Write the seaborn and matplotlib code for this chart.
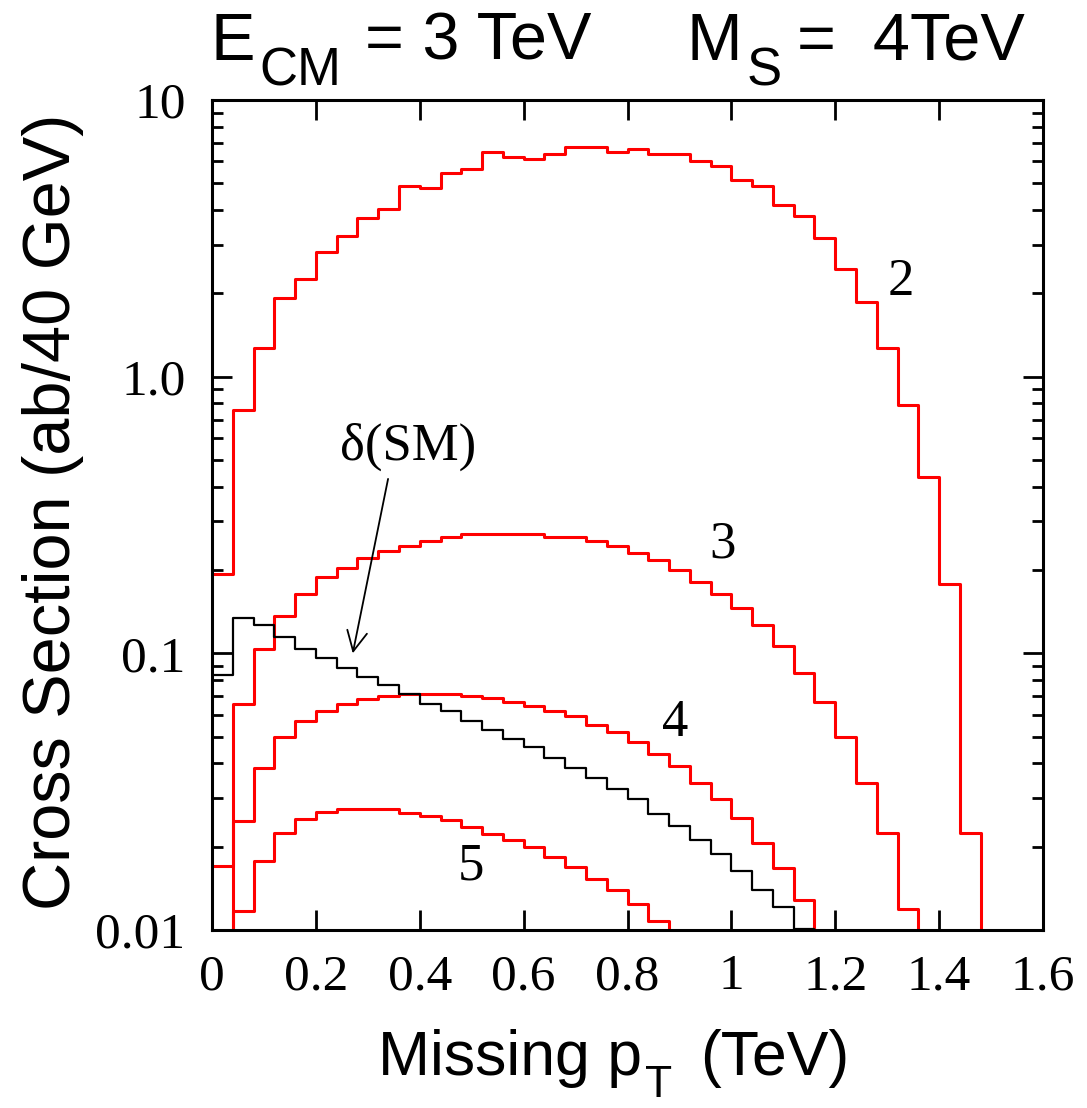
import numpy as np
import pandas as pd
import matplotlib
matplotlib.use("Agg")
import matplotlib.pyplot as plt
import seaborn as sns
from matplotlib.ticker import NullFormatter

# ----------------------------------------------------
# data: cross section per 40 GeV bin (ab)
# ----------------------------------------------------
bin_edges = [round(0.04 * i, 2) for i in range(41)]   # TeV
BELOW = 1e-3   # bins that fall under the 0.01 floor of the plot

# n = 2 extra dimensions, bins 0..36
xsec_n2 = [0.194, 0.758, 1.27, 1.93, 2.26, 2.82, 3.23, 3.73, 4.04, 4.90,
           4.82, 5.43, 5.64, 6.51, 6.24, 6.12, 6.38, 6.75, 6.75, 6.51,
           6.64, 6.38, 6.38, 6.02, 5.76, 5.13, 4.90, 4.18, 3.80, 3.18,
           2.45, 1.86, 1.27, 0.792, 0.435, 0.178, 0.0225]
# n = 3, bins 0..33
xsec_n3 = [0.0170, 0.0655, 0.1035, 0.136, 0.164, 0.189, 0.204, 0.222, 0.234, 0.244,
           0.254, 0.264, 0.269, 0.269, 0.269, 0.269, 0.264, 0.264, 0.254, 0.244,
           0.230, 0.217, 0.200, 0.181, 0.164, 0.146, 0.127, 0.106, 0.0851, 0.0669,
           0.0498, 0.0341, 0.0225, 0.0119]
# n = 4, bins 1..28
xsec_n4 = [0.0247, 0.0386, 0.0498, 0.0571, 0.0619, 0.0657, 0.0683, 0.0702, 0.0714,
           0.0714, 0.0714, 0.0702, 0.0690, 0.0669, 0.0647, 0.0619, 0.0594, 0.0551,
           0.0519, 0.0477, 0.0433, 0.0392, 0.0341, 0.0297, 0.0254, 0.0207, 0.0167,
           0.0128]
# n = 5, bins 1..21
xsec_n5 = [0.0117, 0.0177, 0.0225, 0.0251, 0.0267, 0.0274, 0.0274, 0.0274, 0.0264,
           0.0259, 0.0249, 0.0235, 0.0222, 0.0212, 0.0199, 0.0184, 0.0169, 0.0153,
           0.0139, 0.0124, 0.0108]
# SM background fluctuation delta(SM), bins 0..28
xsec_sm = [0.0833, 0.1346, 0.127, 0.1148, 0.104, 0.0960, 0.0888, 0.0820, 0.0769,
           0.0714, 0.0657, 0.0619, 0.0571, 0.0529, 0.0489, 0.0460, 0.0418, 0.0384,
           0.0354, 0.0323, 0.0297, 0.0263, 0.0238, 0.0211, 0.0188, 0.0163, 0.0139,
           0.0121, 0.0101]

curve_names = ["2", "3", "4", "5", "SM"]
curve_first_bin = [0, 0, 1, 1, 0]
curve_values = [xsec_n2, xsec_n3, xsec_n4, xsec_n5, xsec_sm]

# long-form table, one row per bin per curve
edges = np.array(bin_edges)
n_bins = len(edges) - 1
centers = (edges[:-1] + edges[1:]) / 2
rows = []
for name, first, vals in zip(curve_names, curve_first_bin, curve_values):
    w = np.full(n_bins, BELOW)
    w[first:first + len(vals)] = vals
    rows.append(pd.DataFrame({"pt": centers, "xsec": w, "curve": name}))
df = pd.concat(rows, ignore_index=True)

# ----------------------------------------------------
# style
# ----------------------------------------------------
sns.set_style("ticks")
plt.rcParams["font.family"] = ["Liberation Sans", "DejaVu Sans"]
for key in ["text.color", "axes.labelcolor", "xtick.color", "ytick.color", "axes.edgecolor"]:
    plt.rcParams[key] = "black"
serif = ["Liberation Serif", "DejaVu Serif"]

W, H = 1087, 1108
fig = plt.figure(figsize=(W / 100, H / 100), dpi=100)
ax = fig.add_axes([212 / W, 1 - 930 / H, 831 / W, 830 / H])

red = df[df["curve"] != "SM"]
sns.histplot(data=red, x="pt", weights="xsec", hue="curve", bins=bin_edges,
             element="step", fill=False, palette={c: "#ff0000" for c in curve_names[:4]},
             linewidth=2.2, legend=False, ax=ax)
sns.histplot(data=df[df["curve"] == "SM"], x="pt", weights="xsec", bins=bin_edges,
             element="step", fill=False, color="black", linewidth=1.6,
             legend=False, ax=ax)

ax.set_yscale("log")
ax.set_xlim(0, 1.6)
ax.set_ylim(0.01, 10)

# ticks
ax.set_xticks([0, 0.2, 0.4, 0.6, 0.8, 1.0, 1.2, 1.4, 1.6],
              ["0", "0.2", "0.4", "0.6", "0.8", "1", "1.2", "1.4", "1.6"],
              fontsize=37, fontfamily=serif)
ax.set_yticks([0.01, 0.1, 1, 10], ["0.01", "0.1", "1.0", "10"],
              fontsize=37, fontfamily=serif)
ax.yaxis.set_minor_formatter(NullFormatter())
ax.tick_params(which="both", direction="in", top=True, right=True, width=2)
ax.tick_params(which="major", length=14.5)
ax.tick_params(which="minor", length=8)
ax.tick_params(axis="x", pad=17)
ax.tick_params(axis="y", pad=19)
for s in ax.spines.values():
    s.set_linewidth(2.2)
    s.set_color("black")

# y label
ax.set_ylabel("Cross Section (ab/40 GeV)", fontsize=48)
ax.yaxis.set_label_coords(-0.154, 0.504)
ax.set_xlabel("")


def put(x_px, y_px, s, size):
    """text placed by pixel position of its left end and baseline"""
    fig.text(x_px / W, 1 - y_px / H, s, fontsize=size, ha="left", va="baseline")


# x label, subscript dropped low like the original
put(378, 1075, "Missing p", 45)
put(645, 1097, "T", 32)
put(700, 1075, "(TeV)", 45)

# title
put(210, 60, "E", 48)
put(259, 85, "CM", 38)
put(365, 60, "= 3 TeV", 48)
put(687, 60, "M", 48)
put(747, 85, "S", 38)
put(797, 60, "=  4TeV", 48)

# curve labels
for txt, x, y in [("2", 1.327, 2.20), ("3", 0.983, 0.247),
                  ("4", 0.891, 0.0559), ("5", 0.498, 0.0170)]:
    ax.text(x, y, txt, fontsize=38, fontfamily=serif, ha="center", va="center")

ax.text(0.377, 0.557, "δ(SM)", fontsize=38, fontfamily=serif, ha="center", va="center")
ax.annotate("", xy=(0.271, 0.100), xytext=(0.339, 0.427),
            arrowprops=dict(arrowstyle="->", color="black", lw=1.3,
                            mutation_scale=36, shrinkA=0, shrinkB=0))

fig.savefig("out.png", dpi=100)
